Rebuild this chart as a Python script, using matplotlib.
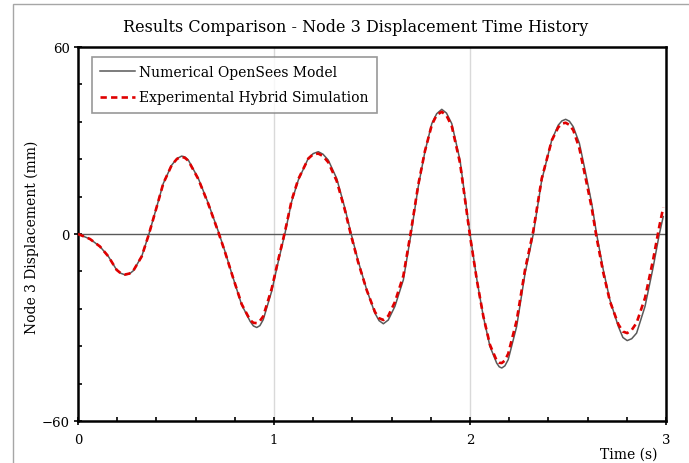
import matplotlib
matplotlib.use("Agg")
import matplotlib.pyplot as plt
from matplotlib.patches import Rectangle
from matplotlib.ticker import MultipleLocator

# Digitised time history (s, mm)
t_num = [0.0, 0.061, 0.112, 0.155, 0.197, 0.218, 0.240, 0.262, 0.282, 0.325,
         0.362, 0.402, 0.435, 0.478, 0.505, 0.529, 0.546, 0.563, 0.614, 0.665,
         0.716, 0.750, 0.792, 0.835, 0.878, 0.895, 0.912, 0.928, 0.945, 0.988,
         1.022, 1.056, 1.090, 1.124, 1.175, 1.200, 1.226, 1.250, 1.277, 1.320,
         1.362, 1.393, 1.430, 1.473, 1.515, 1.536, 1.558, 1.583, 1.617, 1.660,
         1.699, 1.736, 1.770, 1.805, 1.830, 1.856, 1.880, 1.907, 1.949, 2.000,
         2.036, 2.068, 2.102, 2.136, 2.149, 2.162, 2.178, 2.195, 2.238, 2.281,
         2.323, 2.366, 2.417, 2.450, 2.469, 2.488, 2.507, 2.527, 2.558, 2.587,
         2.621, 2.646, 2.680, 2.714, 2.757, 2.780, 2.802, 2.825, 2.850, 2.893,
         2.935, 2.966, 2.986]
d_num = [0.0, -1.6, -4.0, -7.2, -11.5, -12.6, -13.1, -12.8, -11.8, -7.2,
         0.0, 8.8, 16.2, 22.1, 24.2, 25.0, 24.7, 23.7, 17.8, 9.8,
         0.8, -5.6, -14.2, -22.7, -28.0, -29.5, -30.0, -29.4, -27.5, -18.4,
         -8.8, 0.2, 10.4, 17.3, 24.3, 25.8, 26.4, 25.6, 23.7, 17.8,
         8.2, 0.2, -8.8, -17.9, -25.4, -27.8, -28.8, -27.6, -23.2, -14.7,
         0.0, 15.2, 26.4, 35.4, 38.6, 40.0, 38.8, 35.4, 23.7, 0.0,
         -15.0, -26.5, -36.1, -41.4, -42.6, -43.0, -42.3, -40.3, -29.7, -12.6,
         0.0, 17.3, 30.1, 34.9, 36.3, 36.8, 36.2, 34.4, 29.1, 20.5,
         9.8, 0.0, -11.5, -21.2, -29.7, -33.2, -34.2, -33.6, -31.8, -23.2,
         -10.5, 0.0, 5.6]

t_exp = t_num
d_exp = [0.0, -1.6, -4.0, -7.2, -11.5, -12.6, -13.0, -12.7, -11.8, -7.2,
         0.0, 8.8, 16.2, 22.1, 24.1, 24.8, 24.4, 23.5, 17.6, 9.6,
         0.6, -5.8, -14.2, -22.5, -27.6, -28.5, -28.6, -27.9, -26.4, -17.6,
         -8.2, 0.8, 10.8, 17.6, 24.2, 25.6, 25.8, 25.0, 23.0, 17.0,
         7.6, -0.4, -9.2, -18.0, -25.0, -27.0, -27.6, -26.3, -21.8, -13.4,
         1.0, 15.8, 26.6, 35.0, 38.2, 39.2, 38.0, 34.6, 22.8, -0.6,
         -15.2, -26.4, -35.6, -40.6, -41.3, -41.4, -40.6, -38.4, -27.8, -11.4,
         1.0, 17.8, 30.0, 34.2, 35.4, 35.7, 35.0, 33.3, 27.5, 18.8,
         8.4, -1.2, -12.4, -21.6, -29.0, -31.3, -31.8, -30.8, -28.5, -20.5,
         -8.0, 2.5, 8.5]

W, H = 689, 464
fig = plt.figure(figsize=(W / 100, H / 100), dpi=100)
plt.rcParams['font.family'] = ['DejaVu Serif']

# chart area border (runs off the right/bottom edge like the original crop)
fig.patches.append(Rectangle((13 / W, -0.1), 1.2, 1 - 5 / H + 0.1,
                             transform=fig.transFigure, fill=False,
                             edgecolor='#a6a6a6', lw=1))

ax = fig.add_axes([78 / W, 1 - 422 / H, (666 - 78) / W, (422 - 48) / H])
ax.set_xlim(0, 3)
ax.set_ylim(-60, 60)

for x in (1, 2):
    ax.axvline(x, color='#d9d9d9', lw=1, zorder=1)
ax.axhline(0, color='#595959', lw=1, zorder=2)

ax.plot(t_num, d_num, color='#595959', lw=1.1, zorder=3,
        label='Numerical OpenSees Model')
ax.plot(t_exp, d_exp, color='#e00000', lw=1.9, ls=(0, (2.4, 1.6)), zorder=4,
        label='Experimental Hybrid Simulation')

for s in ax.spines.values():
    s.set_linewidth(1.8)
    s.set_color('black')

ax.xaxis.set_major_locator(MultipleLocator(1))
ax.xaxis.set_minor_locator(MultipleLocator(0.2))
ax.yaxis.set_major_locator(MultipleLocator(60))
ax.yaxis.set_minor_locator(MultipleLocator(12))
ax.tick_params(which='major', direction='inout', length=6, width=1.2,
               labelsize=9.5, colors='black')
ax.tick_params(which='minor', direction='in', length=3, width=1.2)
ax.tick_params(axis='x', which='major', pad=6)
ax.tick_params(axis='y', which='major', pad=3)
ax.set_xticklabels([], minor=True)

leg = ax.legend(loc='upper left', bbox_to_anchor=(92 / W, 1 - 58 / H),
                bbox_transform=fig.transFigure, frameon=True, fancybox=False,
                edgecolor='#7f7f7f', fontsize=10, handlelength=2.5,
                handletextpad=0.3, labelspacing=0.8, borderpad=0.6,
                borderaxespad=0)
leg.get_frame().set_linewidth(1.2)

fig.text(356 / W, 1 - 28 / H,
         'Results Comparison - Node 3 Displacement Time History',
         ha='center', va='center', fontsize=11.5)
fig.text(32 / W, 1 - 237 / H, 'Node 3 Displacement (mm)', rotation=90,
         ha='center', va='center', fontsize=10)
fig.text(657 / W, 1 - 455 / H, 'Time (s)', ha='right', va='center',
         fontsize=10)

fig.savefig('out.png', dpi=100)
